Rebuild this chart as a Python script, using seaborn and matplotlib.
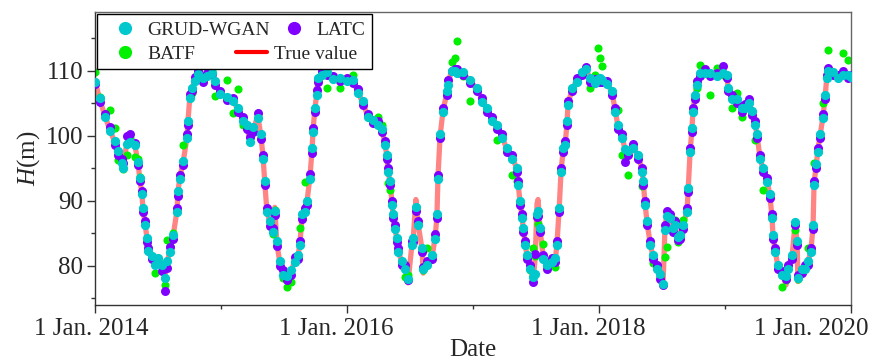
import pandas as pd
import matplotlib
matplotlib.use("Agg")
import matplotlib.pyplot as plt
import matplotlib.dates as mdates
from matplotlib.lines import Line2D
from matplotlib.patches import Rectangle
from matplotlib.ticker import FixedLocator, MultipleLocator
from matplotlib.transforms import ScaledTranslation
import seaborn as sns

# Observation dates
dates = [
    # 2014
    "2014-01-01", "2014-01-15", "2014-01-30", "2014-02-13", "2014-02-28", "2014-03-09",
    "2014-03-20", "2014-03-23", "2014-04-04", "2014-04-12", "2014-04-27", "2014-05-06",
    "2014-05-11", "2014-05-17", "2014-05-20", "2014-05-26", "2014-06-01", "2014-06-04",
    "2014-06-15", "2014-06-24", "2014-07-03", "2014-07-14", "2014-07-23", "2014-07-29",
    "2014-08-06", "2014-08-15", "2014-08-27", "2014-08-29", "2014-09-04", "2014-09-13",
    "2014-09-25", "2014-09-27", "2014-10-03", "2014-10-09", "2014-10-18", "2014-10-26",
    "2014-11-10", "2014-11-21", "2014-12-06", "2014-12-15", "2014-12-29",
    # 2015
    "2015-01-18", "2015-02-05", "2015-02-19", "2015-03-06", "2015-03-17", "2015-03-26",
    "2015-04-04", "2015-04-18", "2015-04-27", "2015-05-03", "2015-05-08", "2015-05-14",
    "2015-05-23", "2015-06-01", "2015-06-06", "2015-06-12", "2015-06-21", "2015-06-30",
    "2015-07-11", "2015-07-23", "2015-08-03", "2015-08-12", "2015-08-18", "2015-08-24",
    "2015-09-01", "2015-09-07", "2015-09-16", "2015-09-22", "2015-09-25", "2015-09-30",
    "2015-10-06", "2015-10-09", "2015-10-21", "2015-11-04", "2015-11-21", "2015-12-12",
    # 2016
    "2016-01-01", "2016-01-18", "2016-02-02", "2016-02-16", "2016-03-02", "2016-03-16",
    "2016-03-31", "2016-04-12", "2016-04-20", "2016-04-26", "2016-04-29", "2016-05-05",
    "2016-05-11", "2016-05-14", "2016-05-19", "2016-05-25", "2016-05-28", "2016-06-09",
    "2016-06-17", "2016-06-26", "2016-07-08", "2016-07-11", "2016-07-19", "2016-07-25",
    "2016-08-06", "2016-08-09", "2016-08-20", "2016-09-04", "2016-09-13", "2016-09-18",
    "2016-09-21", "2016-09-27", "2016-10-06", "2016-10-17", "2016-10-20", "2016-11-01",
    "2016-11-08", "2016-11-15", "2016-12-03", "2016-12-23",
    # 2017
    "2017-01-13", "2017-01-27", "2017-02-11", "2017-02-25", "2017-03-12", "2017-03-26",
    "2017-04-09", "2017-04-24", "2017-05-08", "2017-05-11", "2017-05-17", "2017-05-23",
    "2017-05-26", "2017-06-01", "2017-06-06", "2017-06-15", "2017-06-24", "2017-06-30",
    "2017-07-05", "2017-07-08", "2017-07-14", "2017-07-23", "2017-08-03", "2017-08-18",
    "2017-08-27", "2017-09-01", "2017-09-07", "2017-09-13", "2017-09-19", "2017-09-25",
    "2017-09-30", "2017-10-03", "2017-10-15", "2017-10-29", "2017-11-13", "2017-11-24",
    "2017-12-06", "2017-12-20", "2017-12-28",
    # 2018
    "2018-01-04", "2018-01-10", "2018-01-24", "2018-02-08", "2018-02-16", "2018-02-25",
    "2018-03-09", "2018-03-17", "2018-03-26", "2018-04-09", "2018-04-24", "2018-05-06",
    "2018-05-09", "2018-05-14", "2018-05-20", "2018-05-29", "2018-06-06", "2018-06-18",
    "2018-06-27", "2018-07-05", "2018-07-11", "2018-07-17", "2018-07-26", "2018-08-03",
    "2018-08-09", "2018-08-18", "2018-08-24", "2018-09-01", "2018-09-13", "2018-09-16",
    "2018-09-22", "2018-09-27", "2018-09-30", "2018-10-06", "2018-10-12", "2018-10-21",
    "2018-11-04", "2018-11-19", "2018-12-09", "2018-12-26",
    # 2019
    "2019-01-07", "2019-01-10", "2019-01-21", "2019-02-05", "2019-02-19", "2019-02-28",
    "2019-03-12", "2019-03-20", "2019-03-29", "2019-04-04", "2019-04-12", "2019-04-21",
    "2019-05-03", "2019-05-11", "2019-05-17", "2019-05-20", "2019-05-26", "2019-06-03",
    "2019-06-15", "2019-06-27", "2019-07-02", "2019-07-14", "2019-07-23", "2019-07-29",
    "2019-07-31", "2019-08-12", "2019-08-21", "2019-08-29", "2019-09-07", "2019-09-13",
    "2019-09-16", "2019-09-22", "2019-09-27", "2019-10-03", "2019-10-12", "2019-10-18",
    "2019-10-23", "2019-10-26", "2019-11-10", "2019-11-24", "2019-12-09", "2019-12-23",
    "2019-12-31",
]

# Measured water level H (m)
true_value = [
    108.5, 105.5, 103.0, 100.9, 98.9, 97.4, 96.0, 95.3, 99.0, 99.4, 98.4, 95.8,
    93.2, 91.2, 88.6, 86.6, 84.0, 82.5, 81.4, 80.4, 80.9, 79.9, 78.6, 80.4,
    82.5, 84.5, 88.6, 91.2, 93.7, 95.8, 99.9, 102.0, 106.0, 107.1, 108.6, 109.7,
    108.6, 109.3, 109.9, 108.1, 106.6,
    105.8, 105.5, 104.0, 102.5, 101.4, 99.4, 100.9, 103.0, 99.9, 96.8, 92.8, 88.6,
    86.6, 85.5, 89.0, 83.5, 80.4, 78.9, 78.3, 79.0, 80.9, 81.4, 83.5, 87.6,
    88.6, 89.7, 93.7, 97.8, 100.9, 104.0, 106.6, 108.6, 109.6, 109.6, 108.9, 108.6,
    108.6, 108.4, 106.8, 105.0, 103.0, 102.2, 102.0, 100.9, 98.9, 96.8, 94.8, 92.8,
    89.7, 87.6, 86.0, 84.0, 82.5, 80.4, 79.9, 77.4, 83.5, 84.0, 90.2, 86.6,
    82.5, 78.9, 80.4, 81.4, 84.5, 87.6, 93.7, 99.9, 104.0, 106.6, 108.1, 110.2,
    110.1, 109.9, 109.6, 108.4,
    107.1, 105.5, 104.0, 102.5, 101.4, 99.9, 97.8, 96.8, 94.8, 92.8, 89.7, 87.6,
    85.5, 83.5, 81.4, 79.9, 77.8, 81.4, 89.6, 90.2, 85.5, 81.4, 79.9, 80.9,
    80.9, 83.5, 88.6, 94.8, 97.8, 98.9, 102.0, 105.0, 107.1, 108.6, 109.6, 110.4,
    108.6, 108.4, 108.5,
    108.6, 108.4, 108.1, 106.6, 104.0, 101.4, 99.9, 97.8, 97.3, 98.4, 96.8, 94.8,
    92.8, 89.7, 86.6, 83.5, 81.4, 79.9, 78.4, 76.8, 86.0, 88.1, 87.6, 85.5,
    86.6, 83.5, 84.5, 86.0, 88.6, 91.7, 97.8, 100.9, 104.0, 106.0, 108.1, 109.4,
    109.9, 109.4, 109.4, 109.4,
    109.1, 107.1, 106.0, 105.3, 104.0, 104.5, 105.3, 103.5, 102.0, 99.9, 96.8, 94.8,
    93.2, 90.7, 87.6, 84.5, 82.5, 79.9, 78.9, 77.1, 79.9, 81.4, 86.5, 83.5,
    77.6, 79.2, 79.9, 80.4, 82.5, 86.0, 92.8, 95.3, 97.8, 99.9, 103.0, 106.0,
    109.1, 110.2, 109.6, 109.1, 109.6, 109.1, 109.1,
]

# GRUD-WGAN imputation
grud_wgan = [
    108.3, 105.8, 102.8, 100.7, 99.2, 97.6, 95.8, 95.0, 98.8, 99.1, 98.6, 96.0,
    93.5, 91.0, 88.9, 86.3, 84.3, 82.3, 81.6, 80.2, 81.2, 80.1, 78.2, 80.8,
    82.2, 84.8, 88.3, 91.5, 93.4, 96.1, 99.6, 102.3, 105.8, 107.4, 108.4, 109.5,
    108.9, 109.1, 109.7, 108.4, 106.4,
    105.9, 105.3, 104.3, 102.2, 101.6, 99.0, 101.3, 102.7, 100.2, 96.5, 93.1, 88.3,
    86.9, 85.2, 88.4, 83.8, 80.7, 78.6, 78.5, 79.3, 80.6, 81.7, 83.2, 87.9,
    88.3, 90.0, 93.4, 98.1, 100.6, 104.3, 106.3, 108.9, 109.4, 109.8, 108.7, 108.8,
    108.4, 108.6, 106.5, 105.3, 102.8, 102.4, 101.7, 101.1, 98.6, 97.1, 94.5, 93.1,
    89.4, 87.9, 85.7, 84.3, 82.2, 80.7, 79.6, 78.0, 83.2, 84.3, 89.1, 86.3,
    82.8, 79.5, 80.1, 81.7, 84.2, 87.9, 93.4, 100.2, 103.7, 106.9, 107.8, 109.9,
    110.0, 109.7, 109.8, 108.6,
    107.3, 105.2, 104.3, 102.2, 101.6, 99.6, 98.1, 96.5, 95.1, 92.5, 90.0, 87.3,
    85.8, 83.2, 81.7, 79.6, 78.3, 78.8, 88.0, 88.4, 85.8, 81.1, 80.2, 80.6,
    81.2, 83.2, 88.9, 94.5, 98.1, 98.6, 102.3, 104.7, 107.4, 108.3, 109.8, 110.2,
    108.8, 108.1, 108.7,
    108.8, 108.6, 107.9, 106.9, 103.7, 101.7, 99.6, 98.0, 97.6, 98.1, 97.1, 94.5,
    93.1, 89.4, 86.9, 83.2, 81.7, 79.6, 78.7, 77.3, 85.5, 87.6, 87.3, 85.8,
    86.3, 84.5, 84.8, 86.3, 88.3, 92.0, 97.5, 101.2, 103.7, 106.3, 107.8, 109.6,
    109.7, 109.6, 109.2, 109.6,
    109.3, 107.4, 105.7, 105.6, 104.2, 104.2, 105.0, 103.8, 101.7, 100.2, 96.5, 95.1,
    92.9, 91.0, 87.3, 84.8, 82.2, 80.2, 78.6, 78.5, 79.6, 81.7, 86.8, 83.8,
    78.2, 79.5, 79.6, 80.7, 82.2, 86.3, 92.5, 95.6, 97.5, 100.2, 102.7, 106.3,
    108.8, 110.0, 109.8, 108.9, 109.4, 109.3, 109.0,
]

# LATC imputation
latc = [
    108.0, 105.2, 103.4, 101.3, 98.6, 97.0, 96.4, 95.8, 99.9, 100.2, 98.9, 95.5,
    93.0, 91.5, 88.3, 86.9, 83.6, 82.8, 81.1, 80.8, 80.5, 79.2, 76.1, 79.7,
    82.9, 84.2, 88.9, 90.8, 94.0, 95.5, 100.3, 101.7, 106.4, 106.9, 109.0, 110.0,
    108.3, 109.6, 109.5, 107.8, 106.9,
    105.5, 105.8, 103.7, 102.8, 101.0, 99.8, 100.6, 103.5, 99.5, 97.1, 92.5, 88.9,
    86.2, 85.9, 87.8, 83.1, 80.0, 79.3, 77.8, 78.6, 81.3, 81.0, 83.9, 87.2,
    88.9, 89.4, 94.1, 97.4, 101.2, 103.6, 107.0, 108.2, 109.9, 109.3, 109.2, 108.4,
    108.9, 108.1, 107.1, 104.7, 103.3, 101.9, 102.3, 100.6, 99.2, 96.5, 95.1, 92.5,
    90.0, 87.3, 86.3, 83.7, 82.8, 80.1, 80.2, 77.9, 83.9, 83.7, 88.5, 86.9,
    82.1, 79.8, 80.7, 81.0, 84.9, 87.3, 94.0, 99.6, 104.3, 106.3, 108.5, 110.0,
    110.3, 110.2, 109.3, 108.1,
    106.8, 105.8, 103.7, 102.8, 101.0, 100.2, 97.5, 97.1, 94.5, 93.1, 89.4, 87.9,
    85.2, 83.8, 81.1, 80.2, 77.6, 81.8, 87.5, 87.6, 85.2, 81.7, 79.6, 81.2,
    80.6, 83.9, 88.3, 95.1, 97.5, 99.2, 101.7, 105.3, 106.8, 108.9, 109.3, 110.6,
    108.3, 108.7, 108.3,
    108.3, 108.2, 108.4, 106.3, 104.3, 101.1, 100.2, 96.0, 97.0, 98.7, 96.5, 95.1,
    92.5, 90.0, 86.3, 83.8, 81.1, 80.2, 78.0, 77.0, 86.3, 88.4, 88.0, 85.2,
    86.9, 84.0, 84.2, 85.7, 88.9, 91.4, 98.1, 100.6, 104.3, 105.7, 108.4, 109.1,
    110.2, 109.1, 109.7, 110.7,
    108.8, 106.8, 106.3, 105.0, 103.7, 104.8, 105.6, 103.2, 102.3, 99.6, 97.1, 94.5,
    93.5, 90.4, 87.9, 84.2, 82.8, 79.6, 79.2, 78.0, 80.2, 81.0, 86.3, 83.2,
    78.6, 78.9, 80.2, 80.1, 82.8, 85.7, 93.1, 95.0, 98.1, 99.6, 103.3, 105.7,
    109.4, 110.4, 109.3, 109.4, 109.9, 108.8, 109.3,
]

# BATF imputation
batf = [
    109.8, 105.9, 103.3, 104.0, 101.2, 96.3, 96.2, 94.9, 97.0, 99.6, 96.8, 96.4,
    93.6, 91.0, 88.4, 86.8, 84.2, 82.9, 81.2, 78.9, 81.0, 80.3, 77.0, 84.0,
    83.1, 85.0, 88.7, 91.1, 93.9, 98.6, 100.1, 102.2, 106.0, 106.6, 108.4, 109.9,
    108.7, 109.5, 110.0, 106.1, 106.8,
    108.5, 103.5, 107.2, 101.7, 101.7, 99.6, 100.8, 102.8, 99.7, 97.0, 92.9, 88.5,
    86.8, 84.9, 88.6, 83.4, 80.6, 78.1, 76.8, 77.5, 80.7, 81.3, 85.8, 87.3,
    92.9, 89.9, 93.5, 97.6, 101.0, 103.9, 106.8, 108.5, 109.7, 107.4, 109.1, 107.4,
    108.8, 109.4, 106.9, 105.1, 102.9, 102.0, 102.9, 101.7, 98.8, 96.9, 92.8, 91.7,
    89.8, 87.7, 86.1, 84.1, 82.4, 80.5, 78.3, 78.6, 83.6, 84.2, 89.0, 86.5,
    82.8, 79.3, 82.8, 81.3, 84.6, 87.5, 93.8, 99.8, 104.1, 106.5, 108.6, 111.3,
    112.0, 114.5, 109.2, 105.3,
    107.0, 105.6, 104.1, 102.6, 99.4, 99.8, 97.7, 94.0, 93.0, 92.9, 89.6, 87.7,
    85.4, 83.6, 81.3, 79.4, 82.8, 81.5, 87.8, 86.5, 85.6, 83.4, 80.0, 80.8,
    79.9, 83.6, 88.5, 94.7, 97.9, 98.8, 102.1, 104.9, 107.0, 108.7, 109.5, 110.3,
    107.4, 109.4, 113.5,
    112.0, 110.7, 108.0, 106.5, 104.1, 104.0, 97.1, 97.9, 94.0, 98.3, 96.9, 92.2,
    92.9, 89.8, 86.7, 83.4, 80.4, 80.0, 78.5, 77.2, 81.4, 82.9, 87.5, 85.6,
    87.1, 83.6, 84.4, 87.1, 88.7, 91.8, 97.7, 101.0, 104.1, 106.1, 107.4, 110.9,
    109.8, 106.2, 110.4, 109.3,
    109.2, 107.0, 104.3, 106.6, 102.9, 104.4, 105.2, 103.6, 99.4, 99.8, 96.9, 91.7,
    93.1, 90.8, 87.5, 84.6, 82.4, 80.0, 76.8, 77.8, 80.0, 81.3, 85.5, 83.4,
    78.0, 79.3, 80.0, 82.8, 82.6, 86.1, 95.8, 95.2, 97.7, 99.8, 105.1, 106.1,
    109.2, 113.1, 109.5, 109.2, 112.7, 111.7, 109.2,
]

x_major = ["2014-01-01", "2016-01-01", "2018-01-01", "2020-01-01"]
x_major_labels = ["1 Jan. 2014", "1 Jan. 2016", "1 Jan. 2018", "1 Jan. 2020"]
x_minor = ["2015-01-01", "2017-01-01", "2019-01-01"]
y_major = [80, 90, 100, 110]

COL_GRUD = "#00C8CC"
COL_LATC = "#8000FF"
COL_BATF = "#00F000"
COL_TRUE = "#FF0000"

sns.set_style("ticks")
plt.rcParams["font.family"] = ["Liberation Serif", "DejaVu Serif"]
plt.rcParams["mathtext.fontset"] = "custom"
plt.rcParams["mathtext.rm"] = "Liberation Serif"
plt.rcParams["mathtext.it"] = "Liberation Serif:italic"

df = pd.DataFrame({
    "Date": pd.to_datetime(dates),
    "True value": true_value,
    "GRUD-WGAN": grud_wgan,
    "LATC": latc,
    "BATF": batf,
})

W, H = 878, 363
fig = plt.figure(figsize=(W / 100, H / 100), dpi=100)
ax = fig.add_axes([95 / W, 1 - 305 / H, 756 / W, 293 / H])

sns.lineplot(data=df, x="Date", y="True value", color=COL_TRUE, alpha=0.48,
             linewidth=3.8, estimator=None, ax=ax, zorder=1)
sns.scatterplot(data=df, x="Date", y="BATF", color=COL_BATF, s=34,
                linewidth=0, ax=ax, zorder=2)
sns.scatterplot(data=df, x="Date", y="LATC", color=COL_LATC, s=42,
                linewidth=0, ax=ax, zorder=3)
sns.scatterplot(data=df, x="Date", y="GRUD-WGAN", color=COL_GRUD, s=44,
                linewidth=0, ax=ax, zorder=4)

ax.set_xlim(mdates.date2num(pd.Timestamp("2014-01-01")),
            mdates.date2num(pd.Timestamp("2020-01-01")))
ax.set_ylim(74, 119)

ax.xaxis.set_major_locator(FixedLocator(mdates.date2num(pd.to_datetime(x_major))))
ax.xaxis.set_minor_locator(FixedLocator(mdates.date2num(pd.to_datetime(x_minor))))
ax.set_xticklabels(x_major_labels)
ax.set_yticks(y_major)
ax.yaxis.set_minor_locator(MultipleLocator(5))

ax.tick_params(axis="both", which="major", direction="out", length=5.5,
               width=1.0, labelsize=18, pad=3, color="#333333")
ax.tick_params(axis="both", which="minor", direction="out", length=3,
               width=1.0, color="#333333")
ax.tick_params(axis="x", which="major", pad=4)

for side in ["left", "bottom"]:
    ax.spines[side].set_color("#333333")
    ax.spines[side].set_linewidth(1.0)
for side in ["top", "right"]:
    ax.spines[side].set_color("#666666")
    ax.spines[side].set_linewidth(1.0)
    ax.spines[side].set_visible(True)

# nudge the date labels so the outer ones stay inside the canvas
shifts_px = [-4, -11, -11, -40]
for lab, dx in zip(ax.get_xticklabels(), shifts_px):
    lab.set_transform(lab.get_transform() + ScaledTranslation(dx / 100, 0, fig.dpi_scale_trans))

ax.set_xlabel("Date", fontsize=18, labelpad=-1)
ax.set_ylabel("$H$(m)", fontsize=18, labelpad=3)

# legend: framed box holding two rows
frame = Rectangle((97 / W, 1 - 69 / H), 275 / W, 55 / H, transform=fig.transFigure,
                  facecolor="white", edgecolor="black", linewidth=1.0,
                  clip_on=False, zorder=5)
ax.add_patch(frame)

row1 = [
    Line2D([], [], ls="", marker="o", markersize=9.5, color=COL_GRUD, markeredgewidth=0),
    Line2D([], [], ls="", marker="o", markersize=9.5, color=COL_LATC, markeredgewidth=0),
]
row2 = [
    Line2D([], [], ls="", marker="o", markersize=9.5, color=COL_BATF, markeredgewidth=0),
    Line2D([], [], color=COL_TRUE, linewidth=3.0),
]
leg1 = ax.legend(row1, ["GRUD-WGAN", "LATC"], ncol=2, loc="center left",
                 bbox_to_anchor=(109.5 / W, 1 - 30 / H), bbox_transform=fig.transFigure,
                 frameon=False, fontsize=14, handlelength=1.6, handletextpad=0.35,
                 columnspacing=0.45, borderpad=0, borderaxespad=0)
leg1.set_zorder(6)
ax.add_artist(leg1)
leg2 = ax.legend(row2, ["BATF", "True value"], ncol=2, loc="center left",
                 bbox_to_anchor=(109.5 / W, 1 - 54 / H), bbox_transform=fig.transFigure,
                 frameon=False, fontsize=14, handlelength=1.6, handletextpad=0.35,
                 columnspacing=2.1, borderpad=0, borderaxespad=0)
leg2.set_zorder(6)

fig.savefig("out.png", dpi=100)
